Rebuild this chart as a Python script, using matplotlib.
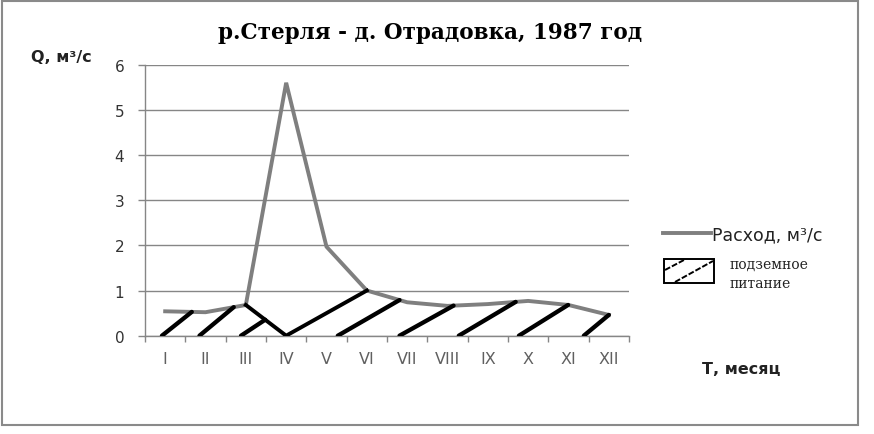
import numpy as np
import matplotlib
matplotlib.use("Agg")
import matplotlib.pyplot as plt
from matplotlib.patches import Rectangle
from matplotlib.lines import Line2D

# ---- data ----
months = ['I', 'II', 'III', 'IV', 'V', 'VI', 'VII', 'VIII', 'IX', 'X', 'XI', 'XII']
discharge = [0.54, 0.52, 0.68, 5.6, 1.97, 1.0, 0.74, 0.66, 0.70, 0.77, 0.68, 0.46]
baseflow = [0.54, 0.52, 0.68, 0.0, 0.5, 1.0, 0.74, 0.66, 0.70, 0.77, 0.68, 0.46]
# hatch strokes of the groundwater area: start (on zero line) and end (on baseflow line), month index
hatch_start = [-0.08, 0.85, 1.88, 4.28, 5.81, 7.28, 8.77, 10.38]
hatch_end = [0.66, 1.70, 2.48, 5.81, 7.15, 8.69, 9.99, 11.0]
yticks = [0, 1, 2, 3, 4, 5, 6]

W, H = 874, 435
fig = plt.figure(figsize=(W / 100, H / 100), dpi=100)
fig.patch.set_facecolor('white')

def fx(px):
    return px / W

def fy(py):
    return 1 - py / H

ax = fig.add_axes([fx(145), fy(336.7), fx(629) - fx(145), fy(65.7) - fy(336.7)])
x = np.arange(len(months))
gray = '#868686'

ax.set_xlim(-0.5, 11.5)
ax.set_ylim(0, 6)
ax.set_yticks(yticks)
ax.yaxis.grid(True, color=gray, lw=1)
ax.set_axisbelow(True)
for s in ['top', 'right']:
    ax.spines[s].set_visible(False)
for s in ['left', 'bottom']:
    ax.spines[s].set_color(gray)
    ax.spines[s].set_linewidth(1)

ax.set_xticks(x)
ax.set_xticklabels(months)
ax.set_xticks(np.arange(-0.5, 12, 1), minor=True)
ax.tick_params(axis='x', which='major', length=0, pad=11, labelsize=11.5, labelcolor='#606060')
ax.tick_params(axis='x', which='minor', length=4, direction='out', color=gray, width=1)
ax.tick_params(axis='y', length=5, direction='out', color=gray, width=1, pad=10,
               labelsize=11, labelcolor='#333333')
for lab in ax.get_xticklabels() + ax.get_yticklabels():
    lab.set_fontfamily('DejaVu Sans')

# discharge line
ax.plot(x, discharge, color='#7f7f7f', lw=2.8, solid_joinstyle='miter', zorder=3)
# baseflow separation (black, between III and VI)
ax.plot(x[2:6], baseflow[2:6], color='black', lw=2.8, zorder=4)
# hatch strokes
for a, b in zip(hatch_start, hatch_end):
    yb = np.interp(b, x, baseflow)
    ax.plot([a, b], [0, yb], color='black', lw=3.1, solid_capstyle='round', zorder=4)

# texts
fig.text(fx(430), fy(38.5), 'р.Стерля - д. Отрадовка, 1987 год', ha='center', va='baseline',
         fontsize=15.5, fontweight='bold', family='DejaVu Serif')
fig.text(fx(31), fy(58), 'Q, м³/с', ha='left', va='center', fontsize=11.5,
         fontweight='bold', family='DejaVu Sans', color='#222222')
fig.text(fx(702), fy(370), 'Т, месяц', ha='left', va='center', fontsize=11.5,
         fontweight='bold', family='DejaVu Sans', color='#222222')

# legend (drawn manually)
fig.add_artist(Line2D([fx(663), fx(711)], [fy(234), fy(234)], color='#7f7f7f', lw=2.8,
                      transform=fig.transFigure))
fig.text(fx(712), fy(235), 'Расход, м³/с', ha='left', va='center', fontsize=12.5,
         family='DejaVu Sans', color='#222222')
fig.add_artist(Rectangle((fx(664), fy(284)), fx(714) - fx(664), fy(260) - fy(284),
                         facecolor='white', edgecolor='black', lw=1.4,
                         transform=fig.transFigure))
fig.add_artist(Line2D([fx(665), fx(684)], [fy(271), fy(261)], color='black', lw=1.4,
                      ls=(0, (3, 1)), transform=fig.transFigure))
fig.add_artist(Line2D([fx(675), fx(713)], [fy(283), fy(262)], color='black', lw=1.4,
                      ls=(0, (3, 1)), transform=fig.transFigure))
fig.text(fx(729), fy(265), 'подземное', ha='left', va='center', fontsize=10,
         family='DejaVu Serif', color='#222222')
fig.text(fx(729), fy(284), 'питание', ha='left', va='center', fontsize=10,
         family='DejaVu Serif', color='#222222')

# outer frame
fig.add_artist(Rectangle((fx(2), fy(426)), fx(858) - fx(2), fy(2) - fy(426),
                         facecolor='none', edgecolor='#8a8a8a', lw=1.5,
                         transform=fig.transFigure))

fig.savefig('out.png', dpi=100, facecolor='white')
